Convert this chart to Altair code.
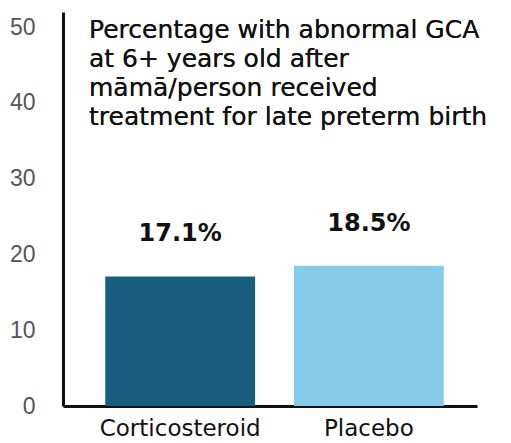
import altair as alt
import pandas as pd

categories = ["Corticosteroid", "Placebo"]
values = [17.1, 18.5]
value_labels = ["17.1%", "18.5%"]
bar_colors = ["#175e7f", "#85cbea"]
y_ticks = [0, 10, 20, 30, 40, 50]
title_lines = [
    "Percentage with abnormal GCA",
    "at 6+ years old after",
    "māmā/person received",
    "treatment for late preterm birth",
]

df = pd.DataFrame({"cat": categories, "val": values, "lab": value_labels})

x = alt.X(
    "cat:N",
    sort=categories,
    title=None,
    scale=alt.Scale(paddingInner=0.206, paddingOuter=0.2, align=0.56),
    axis=alt.Axis(
        labelAngle=0,
        labelFont="DejaVu Sans",
        labelFontSize=23,
        labelColor="#111111",
        labelPadding=11,
        ticks=False,
        domainColor="#111111",
        domainWidth=3,
        grid=False,
    ),
)
y = alt.Y(
    "val:Q",
    title=None,
    scale=alt.Scale(domain=[0, 52], nice=False),
    axis=alt.Axis(
        values=y_ticks,
        labelFont="Liberation Sans",
        labelFontSize=23,
        labelColor="#555555",
        labelPadding=28,
        ticks=False,
        domainColor="#111111",
        domainWidth=3,
        grid=False,
    ),
)

bars = alt.Chart(df).mark_bar().encode(
    x=x,
    y=y,
    color=alt.Color("cat:N", scale=alt.Scale(domain=categories, range=bar_colors), legend=None),
)

labels = alt.Chart(df).mark_text(
    font="DejaVu Sans", fontWeight="bold", fontSize=24, baseline="bottom", dy=-30, color="#111111"
).encode(x=alt.X("cat:N", sort=categories), y="val:Q", text="lab:N")

title = alt.Chart(df).mark_text(
    align="left", baseline="alphabetic", font="DejaVu Sans", fontSize=25, lineHeight=29, color="#111111"
).encode(x=alt.value(26), y=alt.value(26), text=alt.value(title_lines))

chart = alt.layer(bars, labels, title).properties(
    width=414,
    height=394,
    autosize=alt.AutoSizeParams(type="none"),
    padding={"left": 55, "top": 4, "right": 20, "bottom": 35},
).configure_view(stroke=None)

chart.save("out.html", embed_options={"renderer": "svg", "actions": False})
